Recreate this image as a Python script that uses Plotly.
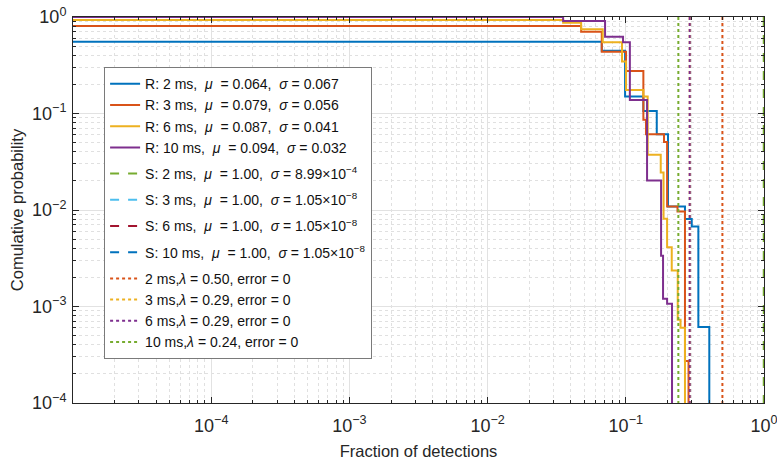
import plotly.graph_objects as go

FLOOR = 1e-6  # probability zero (below the axis)
X_START = 1e-5

# R curves (empirical CCDF steps)
r2_x = [X_START, 0.067, 0.0988, 0.134, 0.1675, 0.202, 0.268, 0.300, 0.335, 0.402]
r2_y = [0.555, 0.448, 0.1496, 0.1064, 0.0611, 0.01087, 0.00805, 0.00675, 0.000614, FLOOR]

r3_x = [X_START, 0.0475, 0.067, 0.1004, 0.134, 0.140, 0.189, 0.199, 0.2367, 0.268, 0.2844]
r3_y = [0.807, 0.705, 0.437, 0.276, 0.0859, 0.0611, 0.0508, 0.01087, 0.00965, 0.000272, FLOOR]

r6_x = [X_START, 0.0352, 0.0475, 0.0681, 0.0939, 0.1004, 0.134, 0.144, 0.179, 0.1876, 0.199, 0.215, 0.2375, 0.249, 0.268]
r6_y = [0.931, 0.873, 0.746, 0.547, 0.345, 0.1755, 0.1496, 0.0373, 0.0245, 0.00811, 0.00411, 0.00236, 0.00073, 0.000603, FLOOR]

r10_x = [X_START, 0.0352, 0.0708, 0.0955, 0.107, 0.1425, 0.180, 0.186, 0.199, 0.216]
r10_y = [1.0, 0.909, 0.625, 0.547, 0.138, 0.0202, 0.00336, 0.00120, 0.00107, FLOOR]

# S curves: vertical at fraction ~1
s_x = {"2": 0.996, "3": 1.0, "6": 1.0, "10": 1.0}
s_y = [1.0, FLOOR]

# lambda thresholds (dotted verticals)
lam = {"2": 0.50, "3": 0.29, "6": 0.29, "10": 0.24}
lam_y = [1.0, FLOOR]

# tick labels
x_tickvals = [1e-4, 1e-3, 1e-2, 1e-1, 1]
x_ticktext = ["10<sup>−4</sup>", "10<sup>−3</sup>", "10<sup>−2</sup>", "10<sup>−1</sup>", "10<sup>0</sup>"]
y_tickvals = [1e-4, 1e-3, 1e-2, 1e-1, 1]
y_ticktext = ["10<sup>−4</sup>", "10<sup>−3</sup>", "10<sup>−2</sup>", "10<sup>−1</sup>", "10<sup>0</sup>"]

BLUE, ORANGE, YELLOW, PURPLE = "#0072BD", "#D95319", "#EDB120", "#7E2F8E"
GREEN, LBLUE, DRED = "#77AC30", "#4DBEEE", "#A2142F"

fig = go.Figure()

R = [
    (r2_x, r2_y, BLUE, "R: 2 ms,  <i>μ</i>  = 0.064,  <i>σ</i> = 0.067"),
    (r3_x, r3_y, ORANGE, "R: 3 ms,  <i>μ</i>  = 0.079,  <i>σ</i> = 0.056"),
    (r6_x, r6_y, YELLOW, "R: 6 ms,  <i>μ</i>  = 0.087,  <i>σ</i> = 0.041"),
    (r10_x, r10_y, PURPLE, "R: 10 ms,  <i>μ</i>  = 0.094,  <i>σ</i> = 0.032"),
]
for i, (xs, ys, c, name) in enumerate(R):
    fig.add_trace(go.Scatter(x=xs, y=ys, mode="lines", line=dict(color=c, width=2, shape="hv"),
                             name=name, legendrank=1 + i, legendgroup="R"))

S = [
    ("2", GREEN, "S: 2 ms,  <i>μ</i>  = 1.00,  <i>σ</i> = 8.99×10<sup>−4</sup>"),
    ("3", LBLUE, "S: 3 ms,  <i>μ</i>  = 1.00,  <i>σ</i> = 1.05×10<sup>−8</sup>"),
    ("6", DRED, "S: 6 ms,  <i>μ</i>  = 1.00,  <i>σ</i> = 1.05×10<sup>−8</sup>"),
    ("10", BLUE, "S: 10 ms,  <i>μ</i>  = 1.00,  <i>σ</i> = 1.05×10<sup>−8</sup>"),
]
s_traces = []
for i, (k, c, name) in enumerate(S):
    s_traces.append(go.Scatter(x=[s_x[k], s_x[k]], y=s_y, mode="lines",
                               line=dict(color=c, width=2, dash="dash"), name=name,
                               legendrank=100 + i, legendgroup="S" + k))
for t in s_traces[1:]:
    fig.add_trace(t)
fig.add_trace(s_traces[0])

L = [
    ("2", ORANGE, "2 ms,<i>λ</i> = 0.50, error = 0"),
    ("3", YELLOW, "3 ms,<i>λ</i> = 0.29, error = 0"),
    ("6", PURPLE, "6 ms,<i>λ</i> = 0.29, error = 0"),
    ("10", GREEN, "10 ms,<i>λ</i> = 0.24, error = 0"),
]
for i, (k, c, name) in enumerate(L):
    fig.add_trace(go.Scatter(x=[lam[k], lam[k]], y=lam_y, mode="lines",
                             line=dict(color=c, width=2, dash="dot"), name=name,
                             legendrank=200 + i, legendgroup="L"))

def minor_vals(lo, hi):
    vals = []
    for e in range(lo, hi):
        for m in range(2, 10):
            vals.append(m * 10.0 ** e)
    return vals

axis_common = dict(
    type="log", showline=True, linecolor="#262626", linewidth=1, mirror="allticks",
    ticks="inside", ticklen=6, tickcolor="#262626", tickmode="array", automargin=False,
    ticklabeloverflow="allow",
    showgrid=True, gridcolor="#e2e2e2", gridwidth=1, zeroline=False,
    tickfont=dict(size=18, color="#262626"),
)
fig.update_xaxes(range=[-5, 0], tickvals=x_tickvals, ticktext=x_ticktext, ticklabelstandoff=6,
                 minor=dict(tickmode="array", tickvals=minor_vals(-5, 0), ticks="inside", ticklen=3,
                            tickcolor="#262626", showgrid=True, gridcolor="#e0e0e0",
                            griddash="dot", gridwidth=1),
                 title=dict(text="Fraction of detections", font=dict(size=16.5, color="#262626"), standoff=10),
                 **axis_common)
fig.update_yaxes(range=[-4, 0], tickvals=y_tickvals, ticktext=y_ticktext, ticklabelstandoff=2,
                 minor=dict(tickmode="array", tickvals=minor_vals(-4, 0), ticks="inside", ticklen=3,
                            tickcolor="#262626", showgrid=True, gridcolor="#e0e0e0",
                            griddash="dot", gridwidth=1),
                 title=dict(text="Comulative probability", font=dict(size=16.5, color="#262626"), standoff=4),
                 **axis_common)

fig.update_layout(
    width=777, height=468,
    margin=dict(l=73, r=13, t=17, b=65),
    paper_bgcolor="white", plot_bgcolor="white",
    font=dict(family="Liberation Sans, Arial, sans-serif", color="#262626"),
    legend=dict(x=0.045, y=0.870, xanchor="left", yanchor="top",
                bgcolor="white", bordercolor="#7a7a7a", borderwidth=1,
                font=dict(size=14, color="#111111"), tracegroupgap=5, itemwidth=30,
                groupclick="toggleitem"),
    showlegend=True,
)

# remove the default page margin so the figure sits at the window's top-left corner
fig.write_html("out.html", config={"displayModeBar": False},
               post_script="document.body.style.margin='0';document.body.style.overflow='hidden';")
